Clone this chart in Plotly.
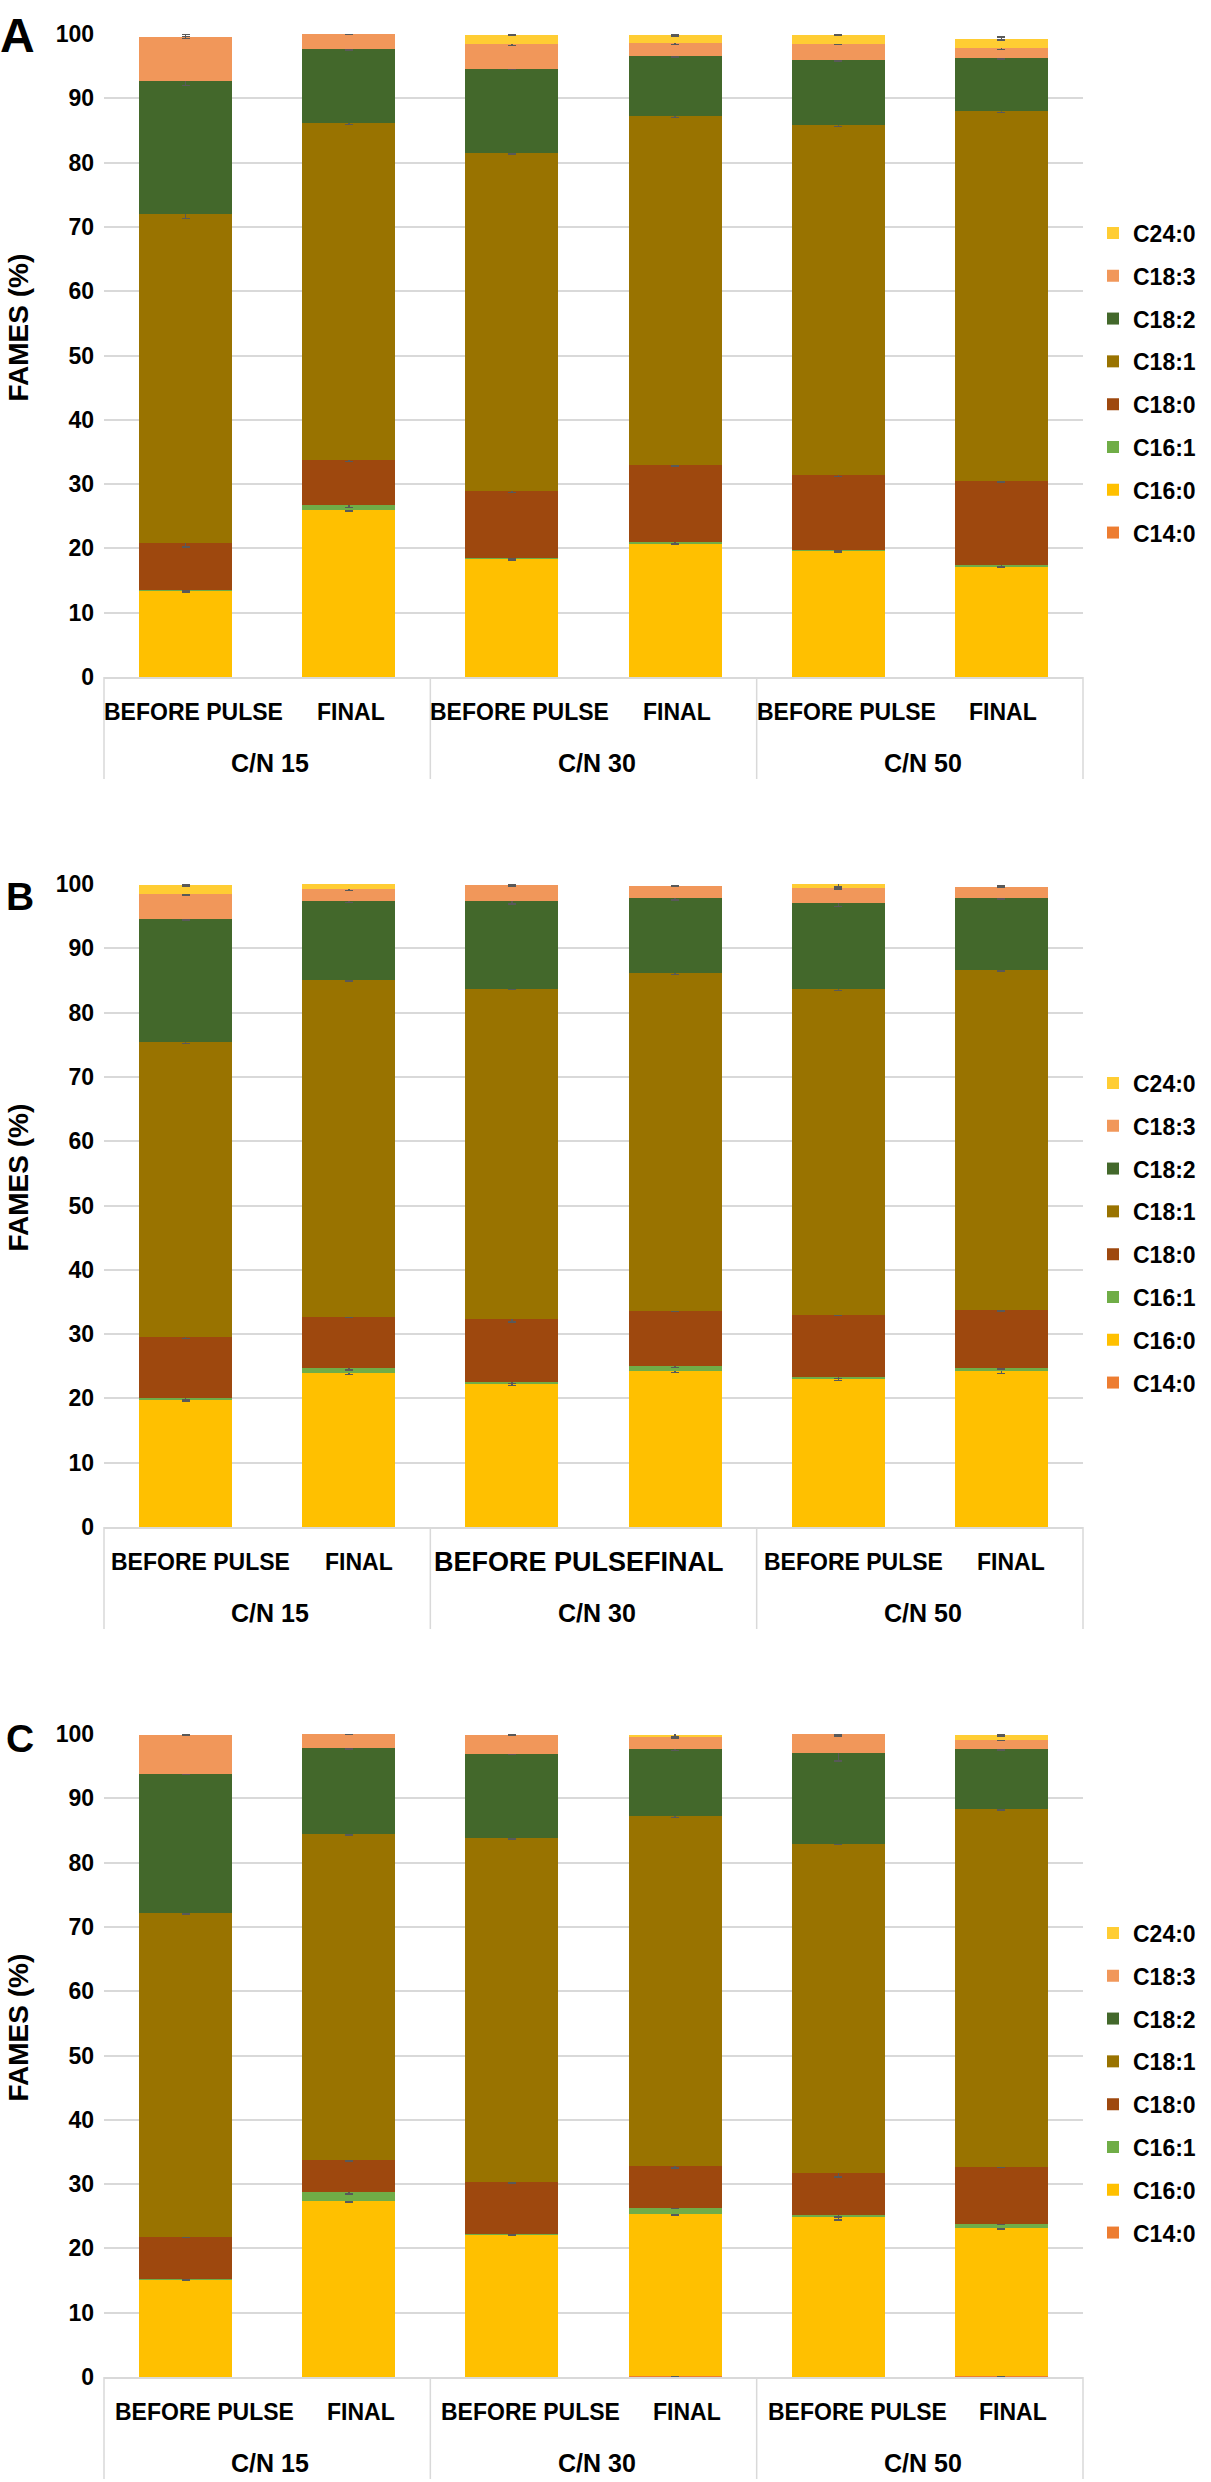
import plotly.graph_objects as go

# ---------------- data ----------------
series = ["C14:0", "C16:0", "C16:1", "C18:0", "C18:1", "C18:2", "C18:3", "C24:0"]
series_colors = ["#ED7D31", "#FFC000", "#70AD47", "#9E480E", "#997300", "#43682B", "#F1975A", "#FFCD33"]

groups = ["C/N 15", "C/N 30", "C/N 50"]
stages = ["BEFORE PULSE", "FINAL"]
categories = [f"{g} {s}" for g in groups for s in stages]
inner_labels = [s for g in groups for s in stages]
panel_letters = ["A", "B", "C"]
y_title = "FAMES (%)"
y_ticks = [0, 10, 20, 30, 40, 50, 60, 70, 80, 90, 100]

# Panel A (mean %, bar order: C/N15 BP, C/N15 F, C/N30 BP, C/N30 F, C/N50 BP, C/N50 F)
a_c14_0 = [0.0, 0.0, 0.0, 0.0, 0.0, 0.0]
a_c16_0 = [13.4, 26.0, 18.4, 20.8, 19.6, 17.2]
a_c16_1 = [0.1, 0.7, 0.1, 0.2, 0.1, 0.2]
a_c18_0 = [7.3, 7.0, 10.4, 12.0, 11.7, 13.1]
a_c18_1 = [51.2, 52.5, 52.6, 54.2, 54.4, 57.5]
a_c18_2 = [20.7, 11.5, 13.1, 9.4, 10.2, 8.3]
a_c18_3 = [6.9, 2.3, 3.8, 2.0, 2.5, 1.5]
a_c24_0 = [0.0, 0.0, 1.5, 1.2, 1.4, 1.5]

# Panel B
b_c14_0 = [0.0, 0.0, 0.0, 0.0, 0.0, 0.0]
b_c16_0 = [19.8, 24.0, 22.3, 24.3, 23.1, 24.2]
b_c16_1 = [0.2, 0.7, 0.2, 0.7, 0.2, 0.6]
b_c18_0 = [9.5, 8.0, 9.8, 8.6, 9.7, 8.9]
b_c18_1 = [45.9, 52.4, 51.4, 52.5, 50.6, 52.9]
b_c18_2 = [19.2, 12.3, 13.7, 11.7, 13.4, 11.3]
b_c18_3 = [3.9, 1.8, 2.4, 1.9, 2.4, 1.7]
b_c24_0 = [1.3, 1.2, 0.0, 0.0, 0.6, 0.0]

# Panel C
c_c14_0 = [0.0, 0.0, 0.0, 0.2, 0.0, 0.2]
c_c16_0 = [15.2, 27.4, 22.2, 25.2, 24.9, 23.0]
c_c16_1 = [0.1, 1.3, 0.1, 0.9, 0.3, 0.6]
c_c18_0 = [6.5, 5.0, 8.0, 6.5, 6.5, 8.9]
c_c18_1 = [50.3, 50.8, 53.5, 54.5, 51.2, 55.6]
c_c18_2 = [21.7, 13.3, 13.1, 10.4, 14.2, 9.3]
c_c18_3 = [6.1, 2.2, 3.0, 1.9, 2.9, 1.5]
c_c24_0 = [0.0, 0.0, 0.0, 0.3, 0.0, 0.7]

# standard deviations (error bars)
a_err_c14_0 = [0.1, 0.1, 0.1, 0.1, 0.1, 0.1]
a_err_c16_0 = [0.2, 0.2, 0.2, 0.1, 0.2, 0.1]
a_err_c16_1 = [0.1, 0.3, 0.1, 0.3, 0.1, 0.2]
a_err_c18_0 = [0.6, 0.2, 0.2, 0.2, 0.2, 0.2]
a_err_c18_1 = [0.7, 0.3, 0.2, 0.2, 0.2, 0.2]
a_err_c18_2 = [0.7, 0.2, 0.1, 0.2, 0.2, 0.2]
a_err_c18_3 = [0.3, 0.1, 0.2, 0.2, 0.1, 0.2]
a_err_c24_0 = [0.0, 0.0, 0.1, 0.1, 0.1, 0.2]

b_err_c14_0 = [0.1, 0.1, 0.1, 0.1, 0.1, 0.1]
b_err_c16_0 = [0.2, 0.3, 0.3, 0.3, 0.3, 0.3]
b_err_c16_1 = [0.2, 0.3, 0.2, 0.2, 0.2, 0.2]
b_err_c18_0 = [0.2, 0.1, 0.4, 0.1, 0.1, 0.1]
b_err_c18_1 = [0.2, 0.2, 0.1, 0.2, 0.2, 0.1]
b_err_c18_2 = [0.2, 0.3, 0.5, 0.3, 0.5, 0.2]
b_err_c18_3 = [0.2, 0.2, 0.1, 0.1, 0.2, 0.1]
b_err_c24_0 = [0.1, 0.1, 0.0, 0.0, 0.5, 0.0]

c_err_c14_0 = [0.1, 0.1, 0.1, 0.1, 0.1, 0.1]
c_err_c16_0 = [0.1, 0.2, 0.1, 0.2, 0.5, 0.2]
c_err_c16_1 = [0.1, 0.2, 0.1, 0.1, 0.3, 0.1]
c_err_c18_0 = [0.1, 0.1, 0.1, 0.3, 0.6, 0.1]
c_err_c18_1 = [0.1, 0.2, 0.1, 0.3, 0.1, 0.1]
c_err_c18_2 = [0.1, 0.1, 0.1, 0.3, 1.3, 0.1]
c_err_c18_3 = [0.1, 0.1, 0.1, 0.2, 0.3, 0.1]
c_err_c24_0 = [0.0, 0.0, 0.0, 0.3, 0.0, 0.1]

panel_values = [
    [a_c14_0, a_c16_0, a_c16_1, a_c18_0, a_c18_1, a_c18_2, a_c18_3, a_c24_0],
    [b_c14_0, b_c16_0, b_c16_1, b_c18_0, b_c18_1, b_c18_2, b_c18_3, b_c24_0],
    [c_c14_0, c_c16_0, c_c16_1, c_c18_0, c_c18_1, c_c18_2, c_c18_3, c_c24_0],
]
panel_errors = [
    [a_err_c14_0, a_err_c16_0, a_err_c16_1, a_err_c18_0, a_err_c18_1, a_err_c18_2, a_err_c18_3, a_err_c24_0],
    [b_err_c14_0, b_err_c16_0, b_err_c16_1, b_err_c18_0, b_err_c18_1, b_err_c18_2, b_err_c18_3, b_err_c24_0],
    [c_err_c14_0, c_err_c16_0, c_err_c16_1, c_err_c18_0, c_err_c18_1, c_err_c18_2, c_err_c18_3, c_err_c24_0],
]

# ---------------- layout geometry (pixels) ----------------
W, H = 1211, 2482
PX_L, PX_R = 104, 1083
panel_top = [34, 884, 1734]
panel_bot = [677, 1527, 2377]
letter_pos = [(17, 35, 48), (20, 896, 39), (20, 1738, 39)]
LEG_FIRST = 199      # px below panel top of the first legend entry
LEG_STEP = 42.8      # px between legend entries

FONT = "Liberation Sans, Arial, sans-serif"
GRID = "#d9d9d9"


def py(p):
    return 1 - p / H


fig = go.Figure()
annotations = []
shapes = []
layout_upd = {}

for k in range(3):
    sfx = "" if k == 0 else str(k + 1)
    xa, ya = "x" + sfx, "y" + sfx
    for i, name in enumerate(series):
        n = k * len(series) + i + 1
        leg = "legend" if n == 1 else f"legend{n}"
        fig.add_trace(go.Bar(
            x=categories, y=panel_values[k][i], name=name,
            marker=dict(color=series_colors[i], line=dict(width=0)),
            error_y=dict(type="data", array=panel_errors[k][i], color="#595959",
                         thickness=1.5, width=4),
            xaxis=xa, yaxis=ya, legend=leg, showlegend=True,
            cliponaxis=False,
        ))
        row = len(series) - 1 - i  # top entry is the last series
        layout_upd[leg] = dict(
            x=1093 / W, xanchor="left",
            y=py(panel_top[k] + LEG_FIRST + row * LEG_STEP), yanchor="middle",
            font=dict(family=FONT, size=23, color="#000", weight="bold"),
            bgcolor="rgba(0,0,0,0)", borderwidth=0,
            itemclick=False, itemdoubleclick=False,
        )

    ph = panel_bot[k] - panel_top[k]
    layout_upd["xaxis" + sfx] = dict(
        domain=[PX_L / W, PX_R / W], anchor=ya, type="category",
        categoryorder="array", categoryarray=categories,
        range=[-0.5, 5.5], showticklabels=False, ticks="",
        showgrid=False, showline=True, linecolor=GRID, linewidth=1.5,
        zeroline=False, automargin=False,
    )
    layout_upd["yaxis" + sfx] = dict(
        domain=[py(panel_bot[k]), py(panel_top[k])], anchor=xa,
        range=[0, 100], tickvals=y_ticks, showgrid=True, gridcolor=GRID,
        gridwidth=1.5, zeroline=False, showline=False, ticks="",
        ticklabelstandoff=9, automargin=False,
        tickfont=dict(family=FONT, size=23, color="#000", weight="bold"),
    )

    # dividers of the category table
    for d in range(4):
        shapes.append(dict(type="line", xref=f"{xa} domain", yref=f"{ya} domain",
                           x0=d / 3, x1=d / 3, y0=0, y1=-102 / ph,
                           line=dict(color=GRID, width=1.5)))

    # inner (stage) labels
    bp_shift = [8, 15, 19][k]
    f_shift = [2, 10, 12][k]
    for j, lab in enumerate(inner_labels):
        size = 23
        shift = bp_shift if j % 2 == 0 else f_shift
        if k == 1 and j in (2, 3):
            size = 27
            shift = 27 if j == 2 else 8
        annotations.append(dict(
            x=j, xref=xa, y=0, yref=f"{ya} domain", yshift=-35, xshift=shift,
            text=lab, showarrow=False, yanchor="middle", xanchor="center",
            font=dict(family=FONT, size=size, color="#000", weight="bold"),
        ))
    # outer (group) labels
    for g, lab in enumerate(groups):
        annotations.append(dict(
            x=2 * g + 0.5, xref=xa, y=0, yref=f"{ya} domain", yshift=-86, xshift=3,
            text=lab, showarrow=False, yanchor="middle", xanchor="center",
            font=dict(family=FONT, size=25, color="#000", weight="bold"),
        ))
    # y-axis title
    annotations.append(dict(
        x=18 / W, xref="paper", y=py((panel_top[k] + panel_bot[k]) / 2 - 28), yref="paper",
        text=y_title, textangle=-90, showarrow=False, xanchor="center", yanchor="middle",
        font=dict(family=FONT, size=28, color="#000", weight="bold"),
    ))
    # panel letter
    lx, ly, ls = letter_pos[k]
    annotations.append(dict(
        x=lx / W, xref="paper", y=py(ly), yref="paper", text=panel_letters[k],
        showarrow=False, xanchor="center", yanchor="middle",
        font=dict(family=FONT, size=ls, color="#000", weight="bold"),
    ))

fig.update_layout(**layout_upd)
fig.update_layout(
    width=W, height=H, margin=dict(l=0, r=0, t=0, b=0, autoexpand=False),
    paper_bgcolor="white", plot_bgcolor="white",
    barmode="stack", bargap=0.43, showlegend=True,
    annotations=annotations, shapes=shapes,
    font=dict(family=FONT, color="#000"),
)

fig.write_html("out.html", config={"displayModeBar": False},
               post_script="document.body.style.margin='0';")
